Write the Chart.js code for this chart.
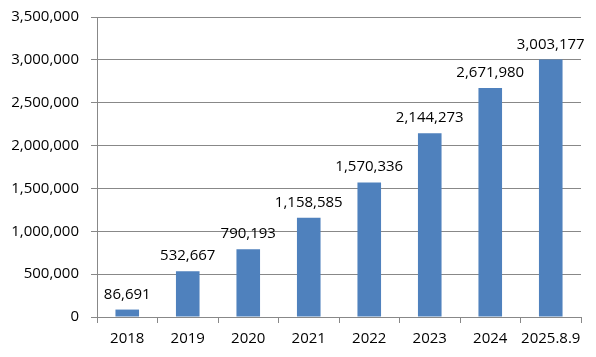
<!DOCTYPE html>
<html>
<head>
<meta charset="utf-8">
<script src="https://cdn.jsdelivr.net/npm/chart.js@4/dist/chart.umd.min.js"></script>
<style>
  html, body { margin: 0; padding: 0; background: #fff; }
  #wrap { width: 596px; height: 357px; position: relative; }
</style>
</head>
<body>
<div id="wrap"><canvas id="c"></canvas></div>
<script>
const categories = ['2018', '2019', '2020', '2021', '2022', '2023', '2024', '2025.8.9'];
const values = [86691, 532667, 790193, 1158585, 1570336, 2144273, 2671980, 3003177];
const yTicks = [0, 500000, 1000000, 1500000, 2000000, 2500000, 3000000, 3500000];

const FONT = '"Open Sans", "Liberation Sans", sans-serif';
const fmt = v => Number(v).toLocaleString('en-US');

const labelPlugin = {
  id: 'barLabels',
  afterDatasetsDraw(chart) {
    const ctx = chart.ctx;
    const meta = chart.getDatasetMeta(0);
    ctx.save();
    ctx.font = '15px ' + FONT;
    ctx.fillStyle = '#000';
    ctx.textAlign = 'center';
    ctx.textBaseline = 'alphabetic';
    meta.data.forEach((bar, i) => {
      ctx.fillText(fmt(values[i]), bar.x, bar.y - 11);
    });
    ctx.restore();
  }
};

new Chart(document.getElementById('c'), {
  type: 'bar',
  data: {
    labels: categories,
    datasets: [{
      data: values,
      backgroundColor: '#4F81BD',
      borderWidth: 0,
      categoryPercentage: 1.0,
      barPercentage: 0.39
    }]
  },
  options: {
    responsive: true,
    maintainAspectRatio: false,
    animation: false,
    devicePixelRatio: 1,
    layout: { padding: { top: 17, right: 15, left: 0, bottom: 0 } },
    plugins: { legend: { display: false }, tooltip: { enabled: false } },
    scales: {
      x: {
        grid: {
          offset: true,
          drawOnChartArea: false,
          drawTicks: true,
          tickLength: 6,
          color: '#888'
        },
        border: { display: true, color: '#888', width: 1 },
        ticks: {
          color: '#000',
          font: { family: FONT, size: 15 },
          padding: 7,
          maxRotation: 0,
          autoSkip: false
        },
        afterFit(scale) { scale.height = 40; scale.paddingLeft = 0; scale.paddingRight = 0; }
      },
      y: {
        min: 0,
        max: 3500000,
        afterBuildTicks(scale) { scale.ticks = yTicks.map(v => ({ value: v })); },
        grid: {
          color: '#888',
          drawTicks: true,
          tickLength: 6,
          lineWidth: 1
        },
        border: { display: true, color: '#888', width: 1 },
        ticks: {
          color: '#000',
          font: { family: FONT, size: 15 },
          padding: 12,
          callback: v => fmt(v)
        },
        afterFit(scale) { scale.width = 97; scale.paddingTop = 0; scale.paddingBottom = 0; }
      }
    }
  },
  plugins: [labelPlugin]
});
</script>
</body>
</html>
